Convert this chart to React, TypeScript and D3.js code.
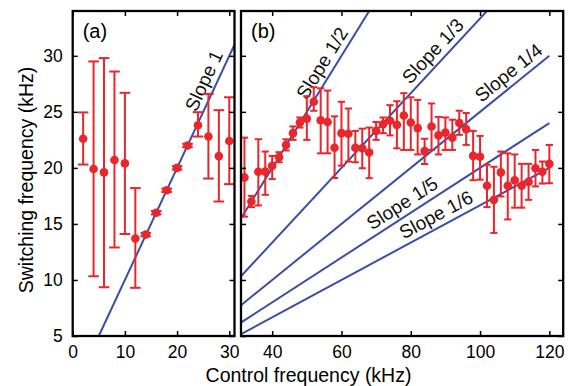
import React, { useEffect, useRef } from 'react'
import * as d3 from 'd3'

// panel (a): low control frequencies
const aFreq = [2, 4, 6, 8, 10, 12, 14, 16, 18, 20, 22, 24, 26, 28, 30]
const aSwitch = [22.6, 19.9, 19.6, 20.7, 20.4, 13.7, 14.05, 16.0, 18.0, 20.0, 22.0, 23.8, 22.8, 21.05, 22.4]
const aLow = [20.3, 10.33, 9.35, 12.9, 14.1, 9.3, 13.9, 15.85, 17.85, 19.85, 21.85, 22.8, 19.05, 17.0, 18.55]
const aHigh = [24.95, 29.5, 29.8, 28.6, 26.7, 18.2, 14.2, 16.15, 18.15, 20.15, 22.15, 24.97, 26.6, 25.15, 26.3]

// panel (b): high control frequencies
const bFreq = [32, 34, 36, 38, 40, 42, 44, 46, 48, 50, 52, 54, 56, 58, 60, 62, 64, 66, 68, 70, 72, 74, 76,
    78, 80, 82, 84, 86, 88, 90, 92, 94, 96, 98, 100, 102, 104, 106, 108, 110, 112, 114, 116, 118, 120]
const bSwitch = [19.15, 17.0, 19.65, 19.67, 20.18, 20.95, 22.05, 23.1, 24.05, 24.4, 25.9, 24.25, 24.1, 21.8,
    23.1, 23.04, 21.8, 21.75, 21.37, 23.3, 23.9, 24.2, 23.84, 24.67, 24.05, 23.55, 21.5, 23.7, 22.9, 23.15,
    22.7, 24.0, 23.45, 21.07, 21.0, 18.4, 17.15, 19.6, 18.4, 18.9, 18.4, 18.75, 19.97, 19.65, 20.36]
const bLow = [15.65, 16.5, 16.65, 17.6, 19.0, 20.5, 21.55, 22.5, 23.6, 22.5, 25.1, 21.3, 21.3, 19.1, 20.2,
    20.56, 20.5, 19.97, 19.08, 22.5, 23.1, 22.9, 21.75, 21.6, 21.6, 21.2, 20.35, 21.6, 21.2, 21.6, 21.6,
    22.95, 22.05, 18.9, 18.95, 16.5, 14.2, 17.45, 15.4, 16.45, 16.45, 17.15, 18.35, 18.6, 18.63]
const bHigh = [22.7, 17.5, 22.56, 21.46, 21.07, 21.4, 22.55, 23.7, 24.5, 26.4, 27.2, 27.1, 26.9, 24.6, 25.9,
    25.3, 23.3, 23.5, 23.6, 24.1, 24.5, 25.6, 25.95, 26.67, 26.3, 26.07, 22.6, 25.75, 24.55, 24.5, 24.3,
    25.1, 24.9, 23.3, 22.85, 20.27, 20.1, 21.46, 21.3, 21.2, 20.36, 20.36, 21.6, 20.57, 22.05]

const aTicks = [0, 10, 20, 30]
const bTicks = [40, 60, 80, 100, 120]
const yTicks = [5, 10, 15, 20, 25, 30]

const aSlopes = [1]
const aSlopeLabels = ['Slope 1']
const aLabelAt = [27.3]
const bSlopes = [2, 3, 4, 5, 6]
const bSlopeLabels = ['Slope 1/2', 'Slope 1/3', 'Slope 1/4', 'Slope 1/5', 'Slope 1/6']
const bLabelAt = [57.5, 89, 110.5, 79.5, 89]

const RED = '#e8262c'
const BLUE = '#3b4ea5'
const FONT = '"Liberation Sans", Arial, Helvetica, sans-serif'

export default function App() {
    const ref = useRef<SVGSVGElement>(null)

    useEffect(() => {
        const svg = d3.select(ref.current)
        svg.selectAll('*').remove()

        const top = 11, bottom = 336
        const y = d3.scaleLinear().domain([5, 34]).range([bottom, top])

        const panels = [
            {
                x: d3.scaleLinear().domain([0, 31]).range([72.7, 234.5]),
                ticks: aTicks, xs: aFreq, ys: aSwitch, lo: aLow, hi: aHigh, cap: 5.3,
                slopes: aSlopes, labels: aSlopeLabels, labelAt: aLabelAt, lineFrom: 5, lineTo: 31,
                name: '(a)', yLabels: true
            },
            {
                x: d3.scaleLinear().domain([31, 124]).range([241, 563.2]),
                ticks: bTicks, xs: bFreq, ys: bSwitch, lo: bLow, hi: bHigh, cap: 3.6,
                slopes: bSlopes, labels: bSlopeLabels, labelAt: bLabelAt, lineFrom: 31, lineTo: 120,
                name: '(b)', yLabels: false
            }
        ]

        panels.forEach((p, pi) => {
            const x = p.x
            const [x0, x1] = x.range()
            const g = svg.append('g')

            const clipId = 'clip' + pi
            g.append('clipPath').attr('id', clipId)
                .append('rect').attr('x', x0).attr('y', top).attr('width', x1 - x0).attr('height', bottom - top)

            // slope lines
            const line = d3.line<number>().x(d => x(d[0])).y(d => y(d[1]))
            p.slopes.forEach((s, i) => {
                g.append('path')
                    .attr('clip-path', `url(#${clipId})`)
                    .attr('d', line([[p.lineFrom, p.lineFrom / s], [p.lineTo, p.lineTo / s]] as any))
                    .attr('stroke', BLUE)
                    .attr('stroke-width', 2)
                    .attr('fill', 'none')

                const ang = Math.atan2(y(0) - y(1 / s), x(1) - x(0))
                const deg = -ang * 180 / Math.PI
                const px = x(p.labelAt[i]), py = y(p.labelAt[i] / s)
                g.append('text')
                    .attr('transform', `translate(${px},${py}) rotate(${deg}) translate(0,-6)`)
                    .attr('text-anchor', 'middle')
                    .style('font', `19px ${FONT}`)
                    .attr('fill', '#111')
                    .text(p.labels[i])
            })

            // error bars
            const eb = g.append('g').attr('stroke', RED).attr('stroke-width', 2).attr('fill', 'none')
            p.xs.forEach((xv, i) => {
                const cx = x(xv)
                eb.append('line').attr('x1', cx).attr('x2', cx).attr('y1', y(p.lo[i])).attr('y2', y(p.hi[i]))
                eb.append('line').attr('x1', cx - p.cap).attr('x2', cx + p.cap).attr('y1', y(p.lo[i])).attr('y2', y(p.lo[i]))
                eb.append('line').attr('x1', cx - p.cap).attr('x2', cx + p.cap).attr('y1', y(p.hi[i])).attr('y2', y(p.hi[i]))
            })

            g.append('g').selectAll('circle')
                .data(p.xs)
                .join('circle')
                .attr('cx', d => x(d))
                .attr('cy', (d, i) => y(p.ys[i]))
                .attr('r', 4.3)
                .attr('fill', RED)

            // axes with inward ticks on all four sides
            const styleAxis = (a: any) => {
                a.select('.domain').remove()
                a.selectAll('line').attr('stroke', '#000').attr('stroke-width', 1.5)
                a.selectAll('text').style('font', `17.5px ${FONT}`).attr('fill', '#000')
            }
            g.append('g').attr('transform', `translate(0,${bottom})`)
                .call(d3.axisBottom(x).tickValues(p.ticks).tickSizeInner(-5).tickSizeOuter(0).tickPadding(10))
                .call(styleAxis)
            g.append('g').attr('transform', `translate(0,${top})`)
                .call(d3.axisTop(x).tickValues(p.ticks).tickSizeInner(-5).tickSizeOuter(0).tickFormat(() => ''))
                .call(styleAxis)
            g.append('g').attr('transform', `translate(${x0},0)`)
                .call(d3.axisLeft(y).tickValues(yTicks).tickSizeInner(-5).tickSizeOuter(0).tickPadding(10)
                    .tickFormat(p.yLabels ? d3.format('d') : () => ''))
                .call(styleAxis)
            g.append('g').attr('transform', `translate(${x1},0)`)
                .call(d3.axisRight(y).tickValues(yTicks).tickSizeInner(-5).tickSizeOuter(0).tickFormat(() => ''))
                .call(styleAxis)

            g.append('rect')
                .attr('x', x0).attr('y', top).attr('width', x1 - x0).attr('height', bottom - top)
                .attr('fill', 'none').attr('stroke', '#000').attr('stroke-width', 2.3)

            g.append('text')
                .attr('x', x0 + 10).attr('y', 38)
                .style('font', `20px ${FONT}`)
                .text(p.name)
        })

        svg.append('text')
            .attr('x', 308.5).attr('y', 381.5)
            .attr('text-anchor', 'middle')
            .style('font', `19.5px ${FONT}`)
            .text('Control frequency (kHz)')

        svg.append('text')
            .attr('transform', 'translate(32.5,180) rotate(-90)')
            .attr('text-anchor', 'middle')
            .style('font', `19.5px ${FONT}`)
            .text('Switching frequency (kHz)')
    }, [])

    return (
        <svg ref={ref} width={570} height={386}
            style={{ position: 'absolute', left: 0, top: 0, background: '#fff' }} />
    )
}
